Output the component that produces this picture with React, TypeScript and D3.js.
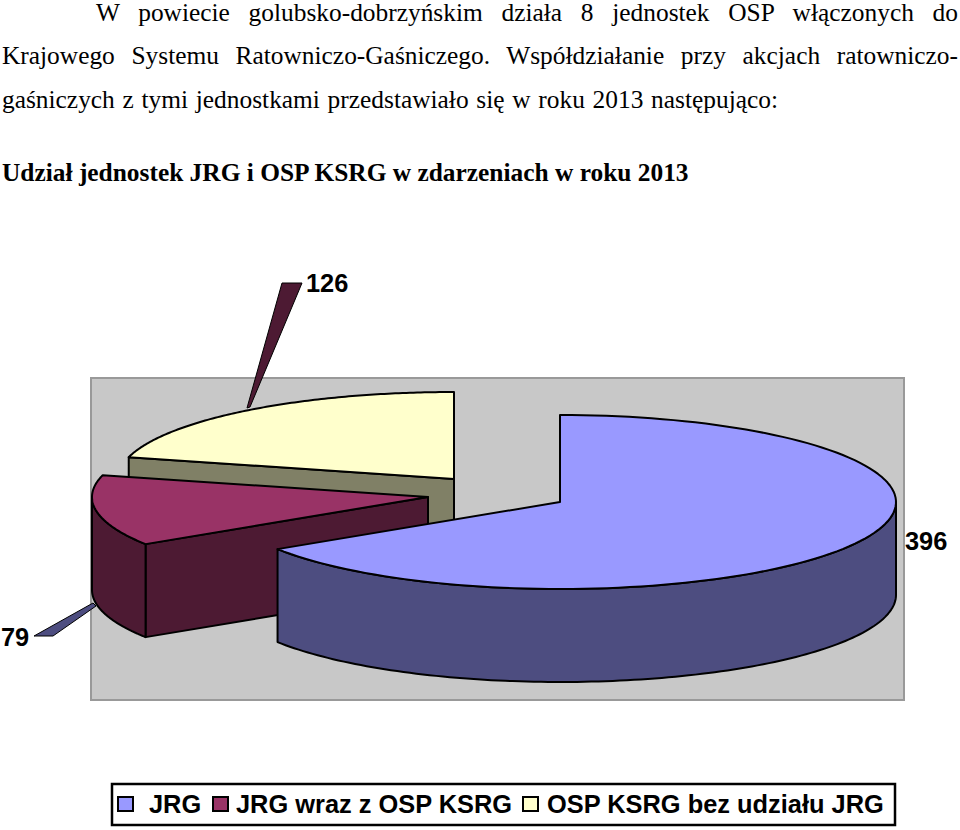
import React, { useEffect, useRef } from 'react';
import * as d3 from 'd3';

const categories = ['JRG', 'JRG wraz z OSP KSRG', 'OSP KSRG bez udziału JRG'];
const values = [396, 79, 126];
const topColors = ['#9999ff', '#993366', '#ffffcc'];
const sideColors = ['#4d4d80', '#4d1a33', '#808066'];

const bodyLines = [
  { text: 'W powiecie golubsko-dobrzyńskim działa 8 jednostek OSP włączonych do', x: 96, y: 21, end: 958 },
  { text: 'Krajowego Systemu Ratowniczo-Gaśniczego. Współdziałanie przy akcjach ratowniczo-', x: 2, y: 64, end: 958 },
  { text: 'gaśniczych z tymi jednostkami przedstawiało się w roku 2013 następująco:', x: 2, y: 108, end: 778 },
];
const heading = 'Udział jednostek JRG i OSP KSRG w zdarzeniach w roku 2013';

const App: React.FC = () => {
  const svgRef = useRef<SVGSVGElement>(null);

  useEffect(() => {
    if (!svgRef.current) return;
    const svg = d3.select(svgRef.current);
    svg.selectAll('*').remove();

    const rx = 336;
    const ry = 87;
    const depth = 93;
    const centers = [
      { x: 560, y: 502 },
      { x: 428, y: 497 },
      { x: 454, y: 479 },
    ];

    // Text block, justified by measuring each line
    bodyLines.forEach(l => {
      const t = svg.append('text')
        .attr('x', l.x)
        .attr('y', l.y)
        .style('font-family', '"Liberation Serif"')
        .style('font-size', '25.4px')
        .text(l.text);
      const natural = (t.node() as SVGTextElement).getComputedTextLength();
      const gaps = l.text.split(' ').length - 1;
      t.style('word-spacing', `${(l.end - l.x - natural) / gaps}px`);
    });

    svg.append('text')
      .attr('x', 2)
      .attr('y', 181)
      .style('font-family', '"Liberation Serif"')
      .style('font-size', '25.4px')
      .style('font-weight', 'bold')
      .text(heading);

    // Plot area
    svg.append('rect')
      .attr('x', 91)
      .attr('y', 378)
      .attr('width', 813)
      .attr('height', 322)
      .attr('fill', '#c8c8c8')
      .attr('stroke', '#999999')
      .attr('stroke-width', 2);

    // Leader wedges
    const wedge = d3.line();
    svg.append('path')
      .attr('d', wedge([[247, 408], [282, 283], [302, 283], [250, 407]]) + 'Z')
      .attr('fill', sideColors[1])
      .attr('stroke', '#000')
      .attr('stroke-width', 1);
    svg.append('path')
      .attr('d', wedge([[93, 603], [34, 636], [53, 636], [96, 606]]) + 'Z')
      .attr('fill', sideColors[0])
      .attr('stroke', '#000')
      .attr('stroke-width', 1);

    const arcs = d3.pie<number>().sort(null)(values);
    const line = d3.line();
    const rim = (i: number, a: number, dy = 0): [number, number] => [
      centers[i].x + rx * Math.sin(a),
      centers[i].y - ry * Math.cos(a) + dy,
    ];
    const sweep = (i: number, a0: number, a1: number, dy = 0) =>
      d3.range(0, 121).map(k => rim(i, a0 + ((a1 - a0) * k) / 120, dy));

    // Back to front: yellow, purple, then blue
    [2, 1, 0].forEach(i => {
      const { startAngle, endAngle } = arcs[i];
      const c: [number, number] = [centers[i].x, centers[i].y];
      const below: [number, number] = [c[0], c[1] + depth];
      const g = svg.append('g')
        .attr('stroke', '#000')
        .attr('stroke-width', 2)
        .attr('stroke-linejoin', 'round');

      // Cut face on the start radius, only seen on the left-hand slices
      if (startAngle > Math.PI) {
        g.append('path')
          .attr('d', line([c, rim(i, startAngle), rim(i, startAngle, depth), below]) + 'Z')
          .attr('fill', sideColors[i]);
      }

      // Outer wall on the front half of the ellipse
      const w0 = Math.max(startAngle, Math.PI / 2);
      const w1 = Math.min(endAngle, (3 * Math.PI) / 2);
      if (w1 > w0) {
        const front = sweep(i, w0, w1);
        const back = sweep(i, w0, w1, depth).reverse();
        g.append('path')
          .attr('d', line([...front, ...back]) + 'Z')
          .attr('fill', sideColors[i]);
      }

      g.append('path')
        .attr('d', line([c, ...sweep(i, startAngle, endAngle)]) + 'Z')
        .attr('fill', topColors[i]);
    });

    // Value labels
    const labelPos = [
      { x: 905, y: 550 },
      { x: 306, y: 292 },
      { x: 1, y: 646 },
    ];
    const labelValues = [values[0], values[2], values[1]];
    labelPos.forEach((p, i) => {
      svg.append('text')
        .attr('x', p.x)
        .attr('y', p.y)
        .style('font-family', '"Liberation Sans"')
        .style('font-size', '25.4px')
        .style('font-weight', 'bold')
        .text(labelValues[i]);
    });

    // Legend
    svg.append('rect')
      .attr('x', 112)
      .attr('y', 784)
      .attr('width', 783)
      .attr('height', 41)
      .attr('fill', '#fff')
      .attr('stroke', '#000')
      .attr('stroke-width', 2.5);
    const swatchX = [118, 213, 523];
    const labelX = [149, 236, 547];
    categories.forEach((name, i) => {
      svg.append('rect')
        .attr('x', swatchX[i])
        .attr('y', 797)
        .attr('width', 15)
        .attr('height', 14)
        .attr('fill', topColors[i])
        .attr('stroke', '#000')
        .attr('stroke-width', 2);
      svg.append('text')
        .attr('x', labelX[i])
        .attr('y', 813)
        .style('font-family', '"Liberation Sans"')
        .style('font-size', '25.4px')
        .style('font-weight', 'bold')
        .text(name);
    });
  }, []);

  return (
    <svg
      ref={svgRef}
      width="960"
      height="830"
      viewBox="0 0 960 830"
      style={{ position: 'absolute', left: 0, top: 0 }}
    ></svg>
  );
};

export default App;
